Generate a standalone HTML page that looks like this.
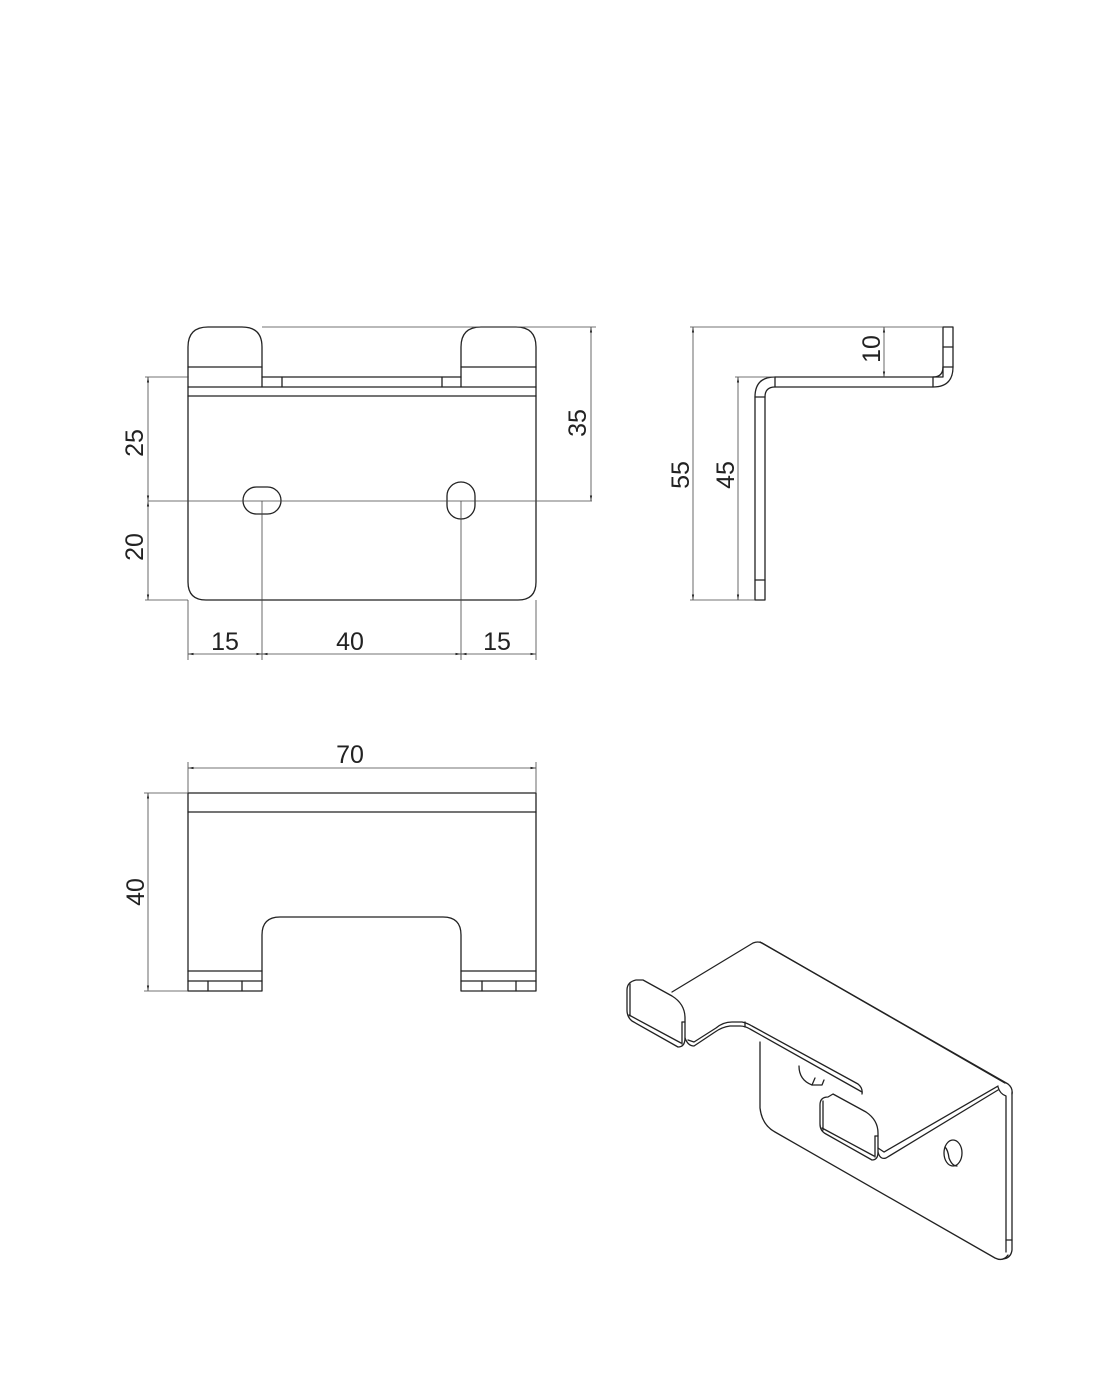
<!DOCTYPE html>
<html><head><meta charset="utf-8"><style>
html,body{margin:0;padding:0;background:#fff;}
svg{display:block;}
text{font-family:"Liberation Sans",sans-serif;font-size:25px;fill:#222;}
.o{fill:none;stroke:#222;stroke-width:1.3;stroke-linejoin:round;stroke-linecap:round;}
.d{fill:none;stroke:#444;stroke-width:0.8;}
</style></head><body>
<svg width="1106" height="1380" viewBox="0 0 1106 1380" xmlns="http://www.w3.org/2000/svg">
<defs><marker id="a" viewBox="0 0 10 10" refX="10" refY="5" markerWidth="7" markerHeight="7" orient="auto-start-reverse"><path d="M0,3 L10,5 L0,7 z" fill="#222"/></marker></defs>

<!-- FRONT VIEW -->
<path class="o" d="M188,377 L188,347 Q188,327 208,327 L242,327 Q262,327 262,347 L262,387"/>
<path class="o" d="M461,387 L461,347 Q461,327 481,327 L516,327 Q536,327 536,347 L536,582 Q536,600 518,600 L206,600 Q188,600 188,582 L188,377"/>
<line class="o" x1="188" y1="367" x2="262" y2="367"/>
<line class="o" x1="461" y1="367" x2="536" y2="367"/>
<line class="o" x1="262" y1="377" x2="461" y2="377"/>
<line class="o" x1="188" y1="387" x2="536" y2="387"/>
<line class="o" x1="188" y1="396" x2="536" y2="396"/>
<line class="o" x1="282" y1="377" x2="282" y2="387"/>
<line class="o" x1="442" y1="377" x2="442" y2="387"/>
<rect class="o" x="243" y="487" width="38" height="27" rx="13.5"/>
<rect class="o" x="447" y="482" width="28" height="37" rx="14"/>
<line class="d" x1="148" y1="501" x2="592" y2="501"/>
<line class="d" x1="262" y1="327" x2="596" y2="327"/>
<line class="d" x1="145" y1="377" x2="188" y2="377"/>
<line class="d" x1="145" y1="600" x2="188" y2="600"/>
<line class="d" x1="148" y1="377" x2="148" y2="501" marker-start="url(#a)" marker-end="url(#a)"/>
<line class="d" x1="148" y1="501" x2="148" y2="600" marker-start="url(#a)" marker-end="url(#a)"/>
<line class="d" x1="591" y1="327" x2="591" y2="501" marker-start="url(#a)" marker-end="url(#a)"/>
<text transform="translate(143,443) rotate(-90)" text-anchor="middle">25</text>
<text transform="translate(143,547) rotate(-90)" text-anchor="middle">20</text>
<text transform="translate(586,423) rotate(-90)" text-anchor="middle">35</text>
<line class="d" x1="188" y1="600" x2="188" y2="660"/>
<line class="d" x1="536" y1="600" x2="536" y2="660"/>
<line class="d" x1="262" y1="501" x2="262" y2="660"/>
<line class="d" x1="461" y1="501" x2="461" y2="660"/>
<line class="d" x1="188" y1="654" x2="262" y2="654" marker-start="url(#a)" marker-end="url(#a)"/>
<line class="d" x1="262" y1="654" x2="461" y2="654" marker-start="url(#a)" marker-end="url(#a)"/>
<line class="d" x1="461" y1="654" x2="536" y2="654" marker-start="url(#a)" marker-end="url(#a)"/>
<text x="225" y="650" text-anchor="middle">15</text>
<text x="350" y="650" text-anchor="middle">40</text>
<text x="497" y="650" text-anchor="middle">15</text>

<!-- SIDE VIEW -->
<path class="o" d="M755,600 L755,397 Q755,377 775,377 L943,377 L943,327 L953,327 L953,367 Q953,387 933,387 L775,387 Q765,387 765,397 L765,600 Z"/>
<path class="o" d="M933,377 Q943,377 943,367"/>
<line class="o" x1="755" y1="397" x2="765" y2="397"/>
<line class="o" x1="775" y1="377" x2="775" y2="387"/>
<line class="o" x1="933" y1="377" x2="933" y2="387"/>
<line class="o" x1="943" y1="367" x2="953" y2="367"/>
<line class="o" x1="943" y1="347" x2="953" y2="347"/>
<line class="o" x1="755" y1="580" x2="765" y2="580"/>
<line class="d" x1="690" y1="327" x2="943" y2="327"/>
<line class="d" x1="735" y1="377" x2="775" y2="377"/>
<line class="d" x1="690" y1="600" x2="755" y2="600"/>
<line class="d" x1="693" y1="327" x2="693" y2="600" marker-start="url(#a)" marker-end="url(#a)"/>
<line class="d" x1="738" y1="377" x2="738" y2="600" marker-start="url(#a)" marker-end="url(#a)"/>
<line class="d" x1="884" y1="327" x2="884" y2="377" marker-start="url(#a)" marker-end="url(#a)"/>
<text transform="translate(689,475) rotate(-90)" text-anchor="middle">55</text>
<text transform="translate(734,475) rotate(-90)" text-anchor="middle">45</text>
<text transform="translate(880,349) rotate(-90)" text-anchor="middle">10</text>

<!-- BOTTOM VIEW -->
<path class="o" d="M188,793 L536,793 L536,991 L461,991 L461,935 Q461,917 443,917 L280,917 Q262,917 262,935 L262,991 L188,991 Z"/>
<line class="o" x1="188" y1="812" x2="536" y2="812"/>
<line class="o" x1="188" y1="971" x2="262" y2="971"/>
<line class="o" x1="188" y1="981" x2="262" y2="981"/>
<line class="o" x1="461" y1="971" x2="536" y2="971"/>
<line class="o" x1="461" y1="981" x2="536" y2="981"/>
<line class="o" x1="208" y1="981" x2="208" y2="991"/>
<line class="o" x1="242" y1="981" x2="242" y2="991"/>
<line class="o" x1="482" y1="981" x2="482" y2="991"/>
<line class="o" x1="516" y1="981" x2="516" y2="991"/>
<line class="d" x1="188" y1="762" x2="188" y2="793"/>
<line class="d" x1="536" y1="762" x2="536" y2="793"/>
<line class="d" x1="188" y1="768" x2="536" y2="768" marker-start="url(#a)" marker-end="url(#a)"/>
<text x="350" y="763" text-anchor="middle">70</text>
<line class="d" x1="144" y1="793" x2="188" y2="793"/>
<line class="d" x1="144" y1="991" x2="188" y2="991"/>
<line class="d" x1="148" y1="793" x2="148" y2="991" marker-start="url(#a)" marker-end="url(#a)"/>
<text transform="translate(144,892) rotate(-90)" text-anchor="middle">40</text>

<!-- ISOMETRIC -->
<g class="o">
<path d="M672,992 L753,943 Q758,941 762,943 L1005,1083"/>
<path d="M760,942 L1008,1084 Q1013,1088 1012,1094"/>
<!-- left tab -->
<path d="M627,990 Q627,982 636,980 L643,980 L672,996 Q685,1004 685,1018 L685,1038 Q685,1047 678,1047 L632,1021 Q627,1017 627,1010 Z"/>
<line x1="629" y1="1015" x2="681" y2="1043"/>
<line x1="630" y1="984" x2="630" y2="1016"/>
<line x1="682" y1="1022" x2="682" y2="1044"/>
<line x1="682" y1="1022" x2="685" y2="1022"/>
<!-- bend left -->
<path d="M685,1038 Q688,1046 694,1046 L715,1032 Q722,1027 730,1026 L740,1026 Q745,1026 750,1029 L862,1092"/>
<path d="M688,1040 L694,1042 L716,1028 Q723,1022 732,1022 L742,1022 Q747,1023 752,1026 L858,1084 Q863,1088 862,1094"/>
<line x1="745" y1="1022" x2="745" y2="1027"/>
<!-- vertical plate left edge -->
<path d="M760,1042 L760,1108 Q762,1125 775,1132 L995,1258 Q1003,1262 1008,1255"/>
<!-- hidden hole partial -->
<path d="M799,1066 Q799,1080 812,1085 L822,1085 L824,1080"/>
<line x1="812" y1="1085" x2="815" y2="1078"/>
<!-- right tab -->
<path d="M820,1105 Q820,1097 828,1097 L833,1094 L866,1112 Q878,1120 878,1133 L878,1152 Q878,1160 872,1160 L826,1134 Q820,1131 820,1124 Z"/>
<line x1="822" y1="1128" x2="874" y2="1156"/>
<line x1="823" y1="1101" x2="823" y2="1130"/>
<line x1="875" y1="1136" x2="875" y2="1157"/>
<line x1="875" y1="1136" x2="878" y2="1136"/>
<!-- front edge -->
<path d="M878,1152 Q880,1160 886,1158 L998,1090"/>
<path d="M878,1148 L884,1152 L998,1086"/>
<!-- right vertical plate -->
<path d="M998,1087 Q1000,1094 1006,1096 L1006,1252"/>
<path d="M1012,1092 L1012,1250 Q1011,1258 1003,1259"/>
<line x1="1006" y1="1240" x2="1012" y2="1240"/>
<!-- hole -->
<ellipse cx="953" cy="1153" rx="9" ry="13"/>
<path d="M945,1147 Q948,1150 949,1158 Q952,1166 957,1166"/>
</g>
</svg>
</body></html>
